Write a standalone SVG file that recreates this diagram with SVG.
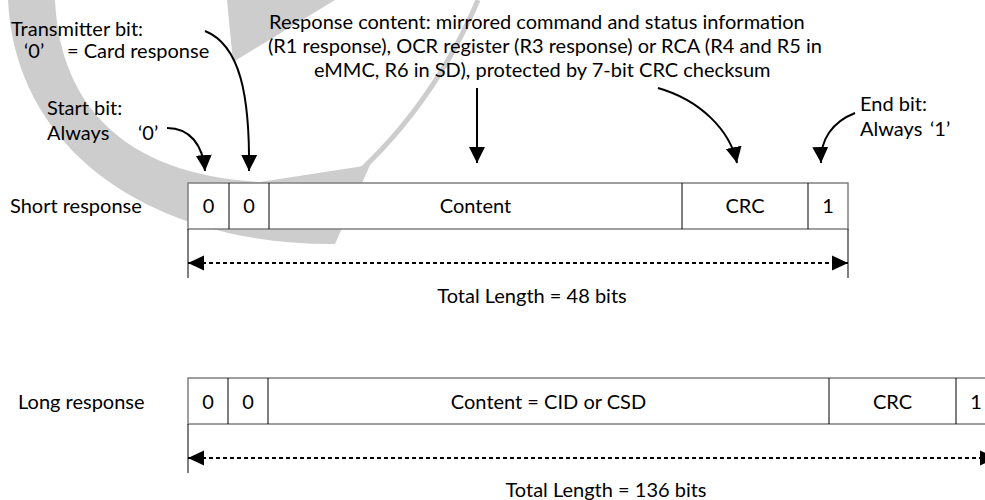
<svg xmlns="http://www.w3.org/2000/svg" width="985" height="500" viewBox="0 0 985 500">
<style>
text{font-family:Lato,"Liberation Sans",sans-serif;font-size:20px;fill:#000}
.c{text-anchor:middle}
.box{fill:#fff;stroke:#7f7f7f;stroke-width:1.5}
.div{stroke:#000;stroke-width:1}
.ext{stroke:#000;stroke-width:1}
.call{fill:none;stroke:#000;stroke-width:2}
.dash{fill:none;stroke:#000;stroke-width:2;stroke-dasharray:4 3}
.wm{fill:#cdcdcd}
</style>
<defs>
<marker id="ah" markerUnits="userSpaceOnUse" markerWidth="17" markerHeight="17" refX="16" refY="8" orient="auto" viewBox="0 0 17 16">
<path d="M0,0 L16,8 L0,16 Z" fill="#000"/>
</marker>
<marker id="dh" markerUnits="userSpaceOnUse" markerWidth="18" markerHeight="16" refX="16" refY="7.5" orient="auto-start-reverse" viewBox="0 0 18 15">
<path d="M0,0 L16,7.5 L0,15 Z" fill="#000"/>
</marker>
</defs>
<g id="watermark">
<path class="wm" d="M8,0 L55,0 C60,110 130,175 260,182 L370,165 L335,244 C150,245 15,150 8,0 Z"/>
<path class="wm" d="M227,0 L335,0 L233,62 Z"/>
<path d="M478,0 Q425,125 320,205" fill="none" stroke="#cdcdcd" stroke-width="5"/>
</g>
<g id="labels">
<text x="11" y="36">Transmitter bit:</text>
<text x="24" y="58">‘0’</text>
<text x="67" y="58">= Card response</text>
<text x="47" y="115">Start bit:</text>
<text x="47" y="140">Always</text>
<text x="138" y="140">‘0’</text>
<text x="269" y="29">Response content: mirrored command and status information</text>
<text x="268" y="53">(R1 response), OCR register (R3 response) or RCA (R4 and R5 in</text>
<text x="314" y="77">eMMC, R6 in SD), protected by 7-bit CRC checksum</text>
<text x="860" y="111">End bit:</text>
<text x="860" y="136">Always</text>
<text x="930" y="136">‘1’</text>
<text x="10" y="213">Short response</text>
<text x="18" y="409">Long response</text>
</g>
<g id="short-response">
<rect class="box" x="188" y="183" width="660" height="46"/>
<line class="div" x1="229" y1="183" x2="229" y2="229"/>
<line class="div" x1="269" y1="183" x2="269" y2="229"/>
<line class="div" x1="682" y1="183" x2="682" y2="229"/>
<line class="div" x1="808" y1="183" x2="808" y2="229"/>
<text class="c" x="208.5" y="213">0</text>
<text class="c" x="249" y="213">0</text>
<text class="c" x="475.5" y="213">Content</text>
<text class="c" x="745" y="213">CRC</text>
<text class="c" x="828" y="213">1</text>
<line class="ext" x1="188" y1="229" x2="188" y2="278"/>
<line class="ext" x1="848" y1="229" x2="848" y2="278"/>
<text class="c" x="532" y="303">Total Length = 48 bits</text>
</g>
<g id="long-response">
<rect class="box" x="188" y="378" width="808" height="46"/>
<line class="div" x1="228" y1="378" x2="228" y2="424"/>
<line class="div" x1="268" y1="378" x2="268" y2="424"/>
<line class="div" x1="829" y1="378" x2="829" y2="424"/>
<line class="div" x1="956" y1="378" x2="956" y2="424"/>
<text class="c" x="208" y="409">0</text>
<text class="c" x="248" y="409">0</text>
<text class="c" x="548.5" y="409">Content = CID or CSD</text>
<text class="c" x="892.5" y="409">CRC</text>
<text class="c" x="976" y="409">1</text>
<line class="ext" x1="188" y1="424" x2="188" y2="473"/>
<line class="ext" x1="996" y1="424" x2="996" y2="473"/>
<text class="c" x="606" y="497">Total Length = 136 bits</text>
</g>
<g id="connectors">
<path class="call" d="M167,128 C190,128 203,145 205,171" marker-end="url(#ah)"/>
<path class="call" d="M205,31 C240,45 250,95 249,171" marker-end="url(#ah)"/>
<path class="call" d="M477,88 L477,163" marker-end="url(#ah)"/>
<path class="call" d="M658,88 C700,100 730,130 737,163" marker-end="url(#ah)"/>
<path class="call" d="M855,113 C832,122 820,140 821,163" marker-end="url(#ah)"/>
<path class="dash" d="M188,263 L848,263" marker-start="url(#dh)" marker-end="url(#dh)"/>
<path class="dash" d="M188,458 L996,458" marker-start="url(#dh)" marker-end="url(#dh)"/>
</g>
</svg>
